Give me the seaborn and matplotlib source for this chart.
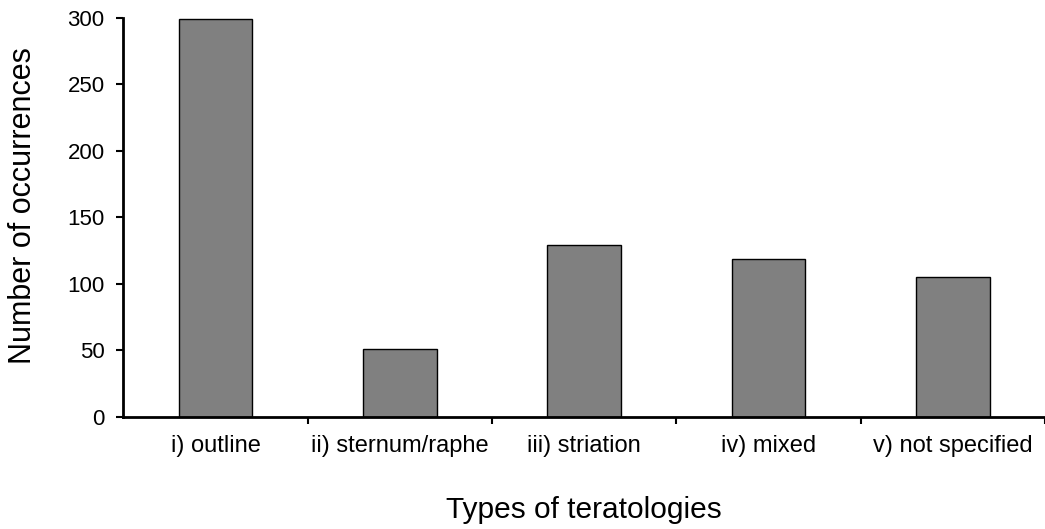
import matplotlib
matplotlib.use("Agg")
import matplotlib.pyplot as plt
import seaborn as sns
import pandas as pd

categories = ["i) outline", "ii) sternum/raphe", "iii) striation", "iv) mixed", "v) not specified"]
occurrences = [299, 51, 129, 119, 105]
yticks = [0, 50, 100, 150, 200, 250, 300]

df = pd.DataFrame({"type": categories, "n": occurrences})

sns.set_theme(style="white")
plt.rcParams["font.family"] = ["Liberation Sans", "DejaVu Sans"]
plt.rcParams["text.color"] = "black"
plt.rcParams["axes.labelcolor"] = "black"
plt.rcParams["xtick.color"] = "black"
plt.rcParams["ytick.color"] = "black"

fig = plt.figure(figsize=(10.45, 5.29), dpi=100)
ax = fig.add_axes([0.118, 0.212, 0.882, 0.754])
sns.barplot(data=df, x="type", y="n", color="#808080", width=0.4,
            edgecolor="black", linewidth=1.0, saturation=1, ax=ax)

ax.set_xlim(-0.5, 4.5)
ax.set_ylim(0, 300)
ax.set_yticks(yticks)
ax.set_yticklabels([str(t) for t in yticks], fontsize=16)
ax.set_xticks([i - 0.5 for i in range(1, 6)], minor=False)
ax.set_xticklabels([])
ax.set_xticks(range(len(categories)), minor=True)
ax.set_xticklabels(categories, minor=True, fontsize=17)
ax.tick_params(axis="x", which="minor", bottom=False, length=0, pad=13)
ax.tick_params(axis="x", which="major", bottom=True, length=5, width=1.5, direction="out", color="black")
ax.tick_params(axis="y", left=True, length=5, width=1.5, direction="out", color="black", pad=8.5)

for s in ["top", "right"]:
    ax.spines[s].set_visible(False)
for s in ["left", "bottom"]:
    ax.spines[s].set_color("black")
    ax.spines[s].set_linewidth(2)

ax.set_xlabel("Types of teratologies", fontsize=21.5, labelpad=28)
ax.set_ylabel("Number of occurrences", fontsize=22, labelpad=21)
ax.yaxis.label.set_y(0.53)

fig.savefig("out.png", dpi=100)
